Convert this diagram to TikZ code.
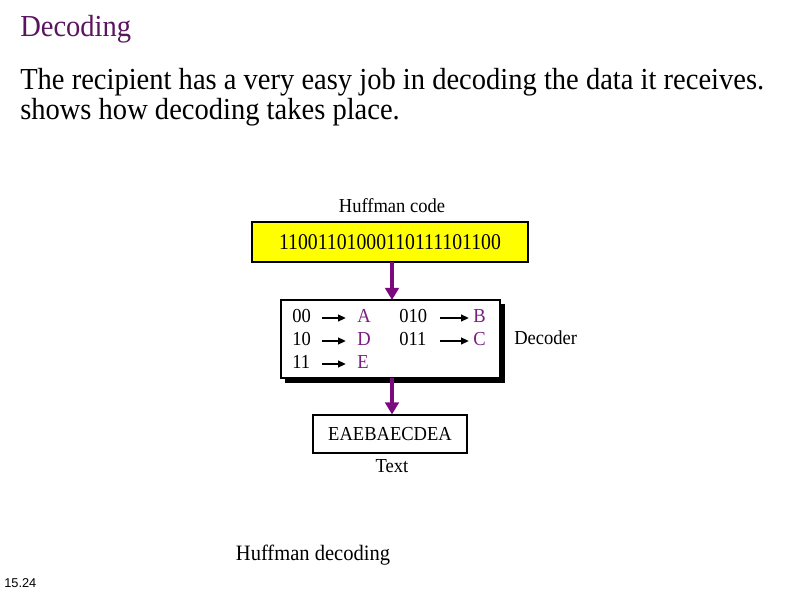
\documentclass[tikz,border=0pt]{standalone}
\usepackage{fontspec}
\setmainfont{Liberation Serif}
\newfontfamily\labelsans{Liberation Sans}
\usetikzlibrary{arrows.meta}
\definecolor{titlepurple}{HTML}{5A1560}
\definecolor{arrowpurple}{HTML}{7B0A7E}
\definecolor{letterpurple}{HTML}{7A1F80}
\definecolor{codeyellow}{HTML}{FFFF00}
\newcommand{\tallish}[1]{\scalebox{1}[1.07]{#1}}
\tikzset{
  bigtext/.style={font=\fontsize{21.4pt}{25pt}\selectfont, inner sep=0pt},
  figlabel/.style={font=\fontsize{13.9pt}{16pt}\selectfont, inner sep=0pt},
  flowarrow/.style={draw=arrowpurple, line width=3pt, -{Triangle[width=10pt,length=9pt]}, fill=arrowpurple},
  maparrow/.style={draw=black, line width=1.5pt, -{Triangle[width=5pt,length=6pt]}},
  letter/.style={figlabel, text=letterpurple},
  boxline/.style={draw=black, line width=1.5pt},
}
\begin{document}
\begin{tikzpicture}[x=0.75pt, y=-0.75pt]
\useasboundingbox[fill=white] (0,0) rectangle (794,595);
% heading and body
\node[bigtext, text=titlepurple, anchor=base west] (title) at (20,37) {\tallish{Decoding}};
\node[bigtext, anchor=base west] (line1) at (20,90) {\tallish{The recipient has a very easy job in decoding the data it receives.}};
\node[bigtext, anchor=base west] (line2) at (20,120) {\tallish{shows how decoding takes place.}};
% Huffman code box
\node[figlabel, anchor=base] (hclabel) at (392,213) {\tallish{Huffman code}};
\draw[boxline, fill=codeyellow] (252,222) rectangle (528,262);
\node[font=\fontsize{14.8pt}{16pt}\selectfont, inner sep=0pt] (code) at (390,242) {\scalebox{1}[1.14]{11001101000110111101100}};
\coordinate (codebot) at (392,262);
% Decoder box with shadow
\fill[black] (285,304) rectangle (505,383);
\draw[boxline, fill=white] (281,300) rectangle (500,378);
\coordinate (dectop) at (392,300);
\coordinate (decbot) at (392,378);
% mapping rows
\node[figlabel, anchor=base west] (c00) at (292,323) {\tallish{00}};
\node[figlabel, anchor=base west] (c10) at (292,346) {\tallish{10}};
\node[figlabel, anchor=base west] (c11) at (292,369) {\tallish{11}};
\node[letter, anchor=base west] (lA) at (357,323) {\tallish{A}};
\node[letter, anchor=base west] (lD) at (357,346) {\tallish{D}};
\node[letter, anchor=base west] (lE) at (357,369) {\tallish{E}};
\node[figlabel, anchor=base west] (c010) at (399,323) {\tallish{010}};
\node[figlabel, anchor=base west] (c011) at (399,346) {\tallish{011}};
\node[letter, anchor=base west] (lB) at (473,323) {\tallish{B}};
\node[letter, anchor=base west] (lC) at (473,346) {\tallish{C}};
\draw[maparrow] (322,318) -- (346,318);
\draw[maparrow] (322,341) -- (346,341);
\draw[maparrow] (322,364) -- (346,364);
\draw[maparrow] (440,318) -- (469,318);
\draw[maparrow] (440,341) -- (469,341);
\node[figlabel, anchor=base west] (decoder) at (514,345) {\tallish{Decoder}};
% Output text box
\node[figlabel, boxline, minimum width=154*0.75pt, minimum height=38*0.75pt, inner sep=0pt] (outbox) at (390,434.5) {\tallish{EAEBAECDEA}};
\node[figlabel, anchor=base] (textlabel) at (392,473) {\tallish{Text}};
% flow arrows
\draw[flowarrow] (codebot) -- (dectop);
\draw[flowarrow] (decbot) -- (outbox.north -| decbot);
% caption
\node[font=\fontsize{15.4pt}{18pt}\selectfont, inner sep=0pt, anchor=base] (caption) at (313,561) {\tallish{Huffman decoding}};
\node[font=\labelsans\fontsize{9.6pt}{11pt}\selectfont, inner sep=0pt, anchor=base west] (pagenum) at (4,588) {15.24};
\end{tikzpicture}
\end{document}
